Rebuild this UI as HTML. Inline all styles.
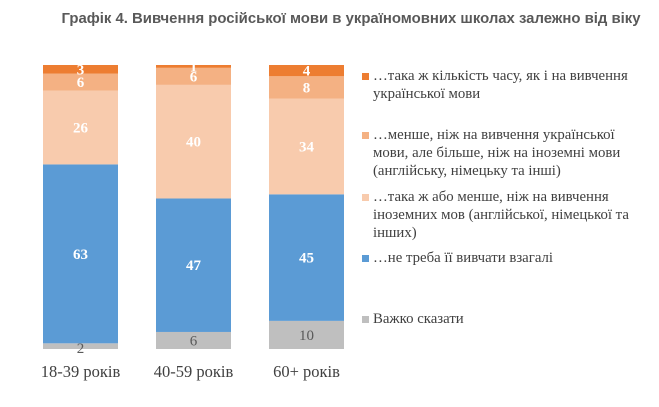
<!DOCTYPE html>
<html><head><meta charset="utf-8"><style>
body{margin:0;background:#fff;width:659px;height:407px;overflow:hidden}
svg{display:block}
</style></head><body>
<svg width="659" height="407">
<text x="351" y="23" text-anchor="middle" font-family="Liberation Sans, sans-serif" font-weight="bold" font-size="14.9" fill="#595959">Графік 4. Вивчення російської мови в україномовних школах залежно від віку</text>
<g id="bars"></g>
<g id="legend"></g>
</svg>
<script>
const categories=["18-39 років","40-59 років","60+ років"];
const sGray=[2,6,10];
const sBlue=[63,47,45];
const sLight=[26,40,34];
const sMid=[6,6,8];
const sDark=[3,1,4];
const series=[sGray,sBlue,sLight,sMid,sDark];
const colors=["#bfbfbf","#5b9bd5","#f8cbad","#f4b183","#ed7d31"];
const textCol=["#595959","#fff","#fff","#fff","#fff"];
const NS="http://www.w3.org/2000/svg";
const plotBottom=349, plotTop=65, barW=75;
function xPos(i){return 43+i*113;}
const g=document.getElementById('bars');
function mk(t,a,p){const e=document.createElementNS(NS,t);for(const k in a)e.setAttribute(k,a[k]);p.appendChild(e);return e;}
categories.forEach((c,i)=>{
  let tot=0;series.forEach(s=>tot+=s[i]);
  const k=(plotBottom-plotTop)/tot;
  let y=plotBottom;
  series.forEach((s,j)=>{
    const h=s[i]*k;
    const r=mk('rect',{x:xPos(i),y:y-h,width:barW,height:h,fill:colors[j]},g);
    
    
    let ty=y-h/2+5;
    if(j==0&&h<8) ty=plotBottom+4;
    const t=mk('text',{x:xPos(i)+barW/2,y:ty,'text-anchor':'middle','font-family':'Liberation Serif, serif','font-size':'15','font-weight':j==0?'normal':'bold',fill:textCol[j]},g);
    t.textContent=s[i];
    
    
    y-=h;
  });
  const lab=mk('text',{x:xPos(i)+barW/2,y:377,'text-anchor':'middle','font-family':'Liberation Serif, serif','font-size':'16.5',fill:'#404040'},g);
  lab.textContent=c;
  
  
});
const lg=document.getElementById('legend');
const legendLines=[
 ["…така ж кількість часу, як і на вивчення","української мови"],
 ["…менше, ніж на вивчення української","мови, але більше, ніж на іноземні мови","(англійську, німецьку та інші)"],
 ["…така ж або менше, ніж на вивчення","іноземних мов (англійської, німецької та","інших)"],
 ["…не треба її вивчати взагалі"],
 ["Важко сказати"]];
const legendY=[80,139,201,262,323];
const legendCol=[4,3,2,1,0];
legendLines.forEach((lines,i)=>{
  const m=mk('rect',{x:362,y:legendY[i]-7,width:7,height:7,fill:colors[legendCol[i]]},lg);
  
  
  lines.forEach((l,j)=>{
    const t=mk('text',{x:373,y:legendY[i]+j*18,'font-family':'Liberation Serif, serif','font-size':'14.8',fill:'#404040'},lg);
    t.textContent=l;
    
    
  });
});
</script>
</body></html>
